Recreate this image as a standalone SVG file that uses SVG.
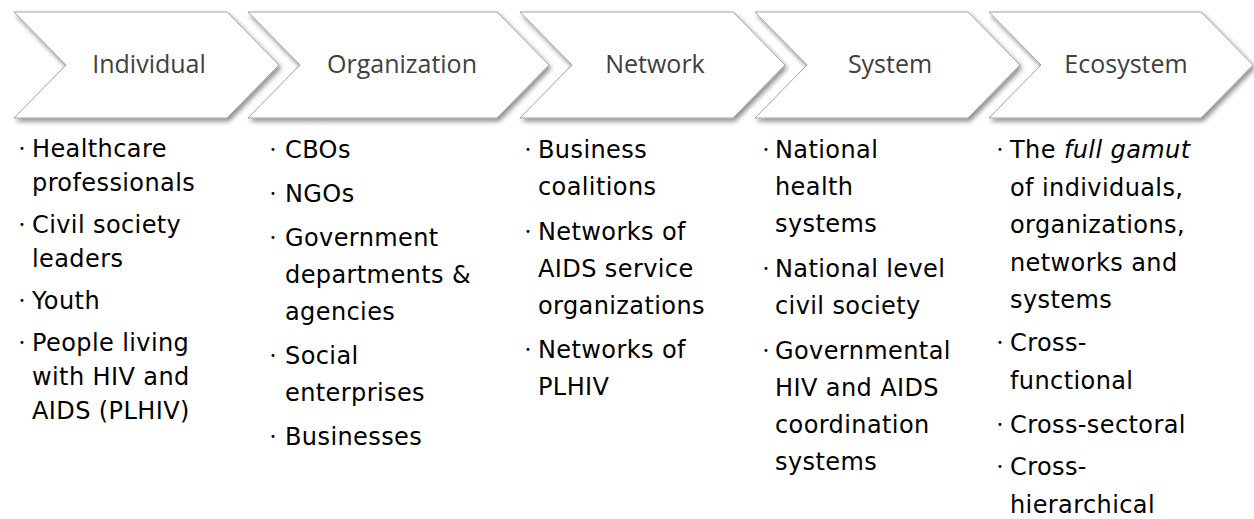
<svg xmlns="http://www.w3.org/2000/svg" width="1254" height="519" viewBox="0 0 1254 519">
<defs>
<filter id="sh" x="-10%" y="-10%" width="125%" height="140%">
<feDropShadow dx="2" dy="3" stdDeviation="2.5" flood-color="#000" flood-opacity="0.45"/>
</filter>
</defs>
<style>
.chev{fill:#ffffff;stroke:#a3a3a3;stroke-width:1;filter:url(#sh)}
.hd{font-family:"Open Sans","DejaVu Sans",sans-serif;font-size:25px;fill:#404040;text-anchor:middle}
.tx{font-family:"DejaVu Sans","Liberation Sans",sans-serif;font-size:24px;fill:#000;letter-spacing:0.4px}
.bl{font-family:"DejaVu Sans","Liberation Sans",sans-serif;font-size:10px;fill:#000;text-anchor:middle}
.it{font-style:italic}
</style>
<rect width="1254" height="519" fill="#ffffff"/>
<g id="connectors"></g>

<g id="individual">
<path class="chev" d="M14,12 L227,12 L279,65 L227,118 L14,118 L66,65 Z"/>
<text class="hd" x="149" y="73">Individual</text>
<text class="bl" x="22" y="152">•</text>
<text class="tx"><tspan x="32" y="157">Healthcare</tspan><tspan x="32" y="191">professionals</tspan></text>
<text class="bl" x="22" y="228">•</text>
<text class="tx"><tspan x="32" y="233">Civil society</tspan><tspan x="32" y="267">leaders</tspan></text>
<text class="bl" x="22" y="304">•</text>
<text class="tx"><tspan x="32" y="309">Youth</tspan></text>
<text class="bl" x="22" y="346">•</text>
<text class="tx"><tspan x="32" y="351">People living</tspan><tspan x="32" y="385">with HIV and</tspan><tspan x="32" y="419">AIDS (PLHIV)</tspan></text>
</g>

<g id="organization">
<path class="chev" d="M248,12 L497,12 L549,65 L497,118 L248,118 L300,65 Z"/>
<text class="hd" x="402" y="73">Organization</text>
<text class="bl" x="273" y="153">•</text>
<text class="tx"><tspan x="285" y="158">CBOs</tspan></text>
<text class="bl" x="273" y="197">•</text>
<text class="tx"><tspan x="285" y="202">NGOs</tspan></text>
<text class="bl" x="273" y="241">•</text>
<text class="tx"><tspan x="285" y="246">Government</tspan><tspan x="285" y="283">departments &amp;</tspan><tspan x="285" y="320">agencies</tspan></text>
<text class="bl" x="273" y="359">•</text>
<text class="tx"><tspan x="285" y="364">Social</tspan><tspan x="285" y="401">enterprises</tspan></text>
<text class="bl" x="273" y="440">•</text>
<text class="tx"><tspan x="285" y="445">Businesses</tspan></text>
</g>

<g id="network">
<path class="chev" d="M520,12 L733,12 L785,65 L733,118 L520,118 L572,65 Z"/>
<text class="hd" x="655" y="73">Network</text>
<text class="bl" x="528" y="153">•</text>
<text class="tx"><tspan x="538" y="158">Business</tspan><tspan x="538" y="195">coalitions</tspan></text>
<text class="bl" x="528" y="235">•</text>
<text class="tx"><tspan x="538" y="240">Networks of</tspan><tspan x="538" y="277">AIDS service</tspan><tspan x="538" y="314">organizations</tspan></text>
<text class="bl" x="528" y="353">•</text>
<text class="tx"><tspan x="538" y="358">Networks of</tspan><tspan x="538" y="395">PLHIV</tspan></text>
</g>

<g id="system">
<path class="chev" d="M755,12 L968,12 L1020,65 L968,118 L755,118 L807,65 Z"/>
<text class="hd" x="890" y="73">System</text>
<text class="bl" x="766" y="153">•</text>
<text class="tx"><tspan x="775" y="158">National</tspan><tspan x="775" y="195">health</tspan><tspan x="775" y="232">systems</tspan></text>
<text class="bl" x="766" y="272">•</text>
<text class="tx"><tspan x="775" y="277">National level</tspan><tspan x="775" y="314">civil society</tspan></text>
<text class="bl" x="766" y="354">•</text>
<text class="tx"><tspan x="775" y="359">Governmental</tspan><tspan x="775" y="396">HIV and AIDS</tspan><tspan x="775" y="433">coordination</tspan><tspan x="775" y="470">systems</tspan></text>
</g>

<g id="ecosystem">
<path class="chev" d="M989,12 L1201,12 L1253,65 L1201,118 L989,118 L1041,65 Z"/>
<text class="hd" x="1126" y="73">Ecosystem</text>
<text class="bl" x="1000" y="153">•</text>
<text class="tx"><tspan x="1010" y="158">The <tspan class="it">full gamut</tspan></tspan><tspan x="1010" y="196">of individuals,</tspan><tspan x="1010" y="233">organizations,</tspan><tspan x="1010" y="271">networks and</tspan><tspan x="1010" y="308">systems</tspan></text>
<text class="bl" x="1000" y="346">•</text>
<text class="tx"><tspan x="1010" y="351">Cross-</tspan><tspan x="1010" y="389">functional</tspan></text>
<text class="bl" x="1000" y="428">•</text>
<text class="tx"><tspan x="1010" y="433">Cross-sectoral</tspan></text>
<text class="bl" x="1000" y="470">•</text>
<text class="tx"><tspan x="1010" y="475">Cross-</tspan><tspan x="1010" y="513">hierarchical</tspan></text>
</g>
</svg>
